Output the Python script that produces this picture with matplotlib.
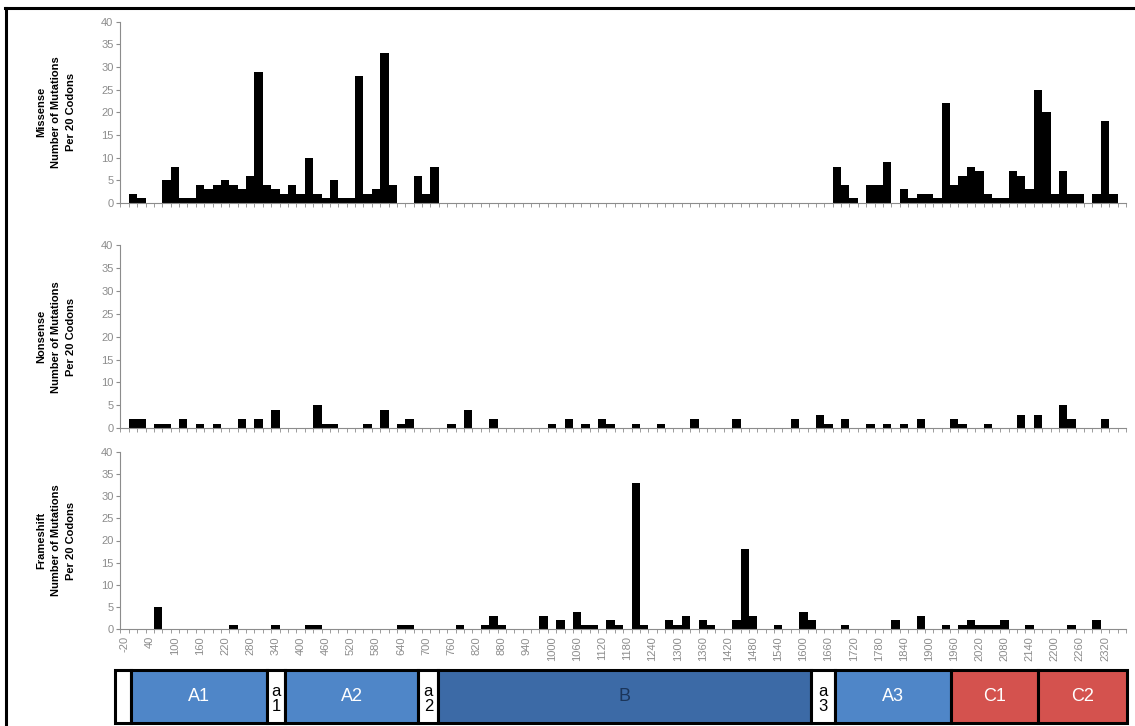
import numpy as np
import matplotlib
matplotlib.use("Agg")
import matplotlib.pyplot as plt
from matplotlib.patches import Rectangle
from matplotlib.lines import Line2D

plt.rcParams['font.family'] = ['Liberation Sans', 'DejaVu Sans']

# codon bins of 20 (start codon of each bin)
codons = list(range(-20, 2380, 20))

missense = [
    0, 2, 1, 0, 0, 5, 8, 1, 1, 4,
    3, 4, 5, 4, 3, 6, 29, 4, 3, 2,
    4, 2, 10, 2, 1, 5, 1, 1, 28, 2,
    3, 33, 4, 0, 0, 6, 2, 8, 0, 0,
    0, 0, 0, 0, 0, 0, 0, 0, 0, 0,
    0, 0, 0, 0, 0, 0, 0, 0, 0, 0,
    0, 0, 0, 0, 0, 0, 0, 0, 0, 0,
    0, 0, 0, 0, 0, 0, 0, 0, 0, 0,
    0, 0, 0, 0, 0, 8, 4, 1, 0, 4,
    4, 9, 0, 3, 1, 2, 2, 1, 22, 4,
    6, 8, 7, 2, 1, 1, 7, 6, 3, 25,
    20, 2, 7, 2, 2, 0, 2, 18, 2, 0,
]

nonsense = [
    0, 2, 2, 0, 1, 1, 0, 2, 0, 1,
    0, 1, 0, 0, 2, 0, 2, 0, 4, 0,
    0, 0, 0, 5, 1, 1, 0, 0, 0, 1,
    0, 4, 0, 1, 2, 0, 0, 0, 0, 1,
    0, 4, 0, 0, 2, 0, 0, 0, 0, 0,
    0, 1, 0, 2, 0, 1, 0, 2, 1, 0,
    0, 1, 0, 0, 1, 0, 0, 0, 2, 0,
    0, 0, 0, 2, 0, 0, 0, 0, 0, 0,
    2, 0, 0, 3, 1, 0, 2, 0, 0, 1,
    0, 1, 0, 1, 0, 2, 0, 0, 0, 2,
    1, 0, 0, 1, 0, 0, 0, 3, 0, 3,
    0, 0, 5, 2, 0, 0, 0, 2, 0, 0,
]

frameshift = [
    0, 0, 0, 0, 5, 0, 0, 0, 0, 0,
    0, 0, 0, 1, 0, 0, 0, 0, 1, 0,
    0, 0, 1, 1, 0, 0, 0, 0, 0, 0,
    0, 0, 0, 1, 1, 0, 0, 0, 0, 0,
    1, 0, 0, 1, 3, 1, 0, 0, 0, 0,
    3, 0, 2, 0, 4, 1, 1, 0, 2, 1,
    0, 33, 1, 0, 0, 2, 1, 3, 0, 2,
    1, 0, 0, 2, 18, 3, 0, 0, 1, 0,
    0, 4, 2, 0, 0, 0, 1, 0, 0, 0,
    0, 0, 2, 0, 0, 3, 0, 0, 1, 0,
    1, 2, 1, 1, 1, 2, 0, 0, 1, 0,
    0, 0, 0, 1, 0, 0, 2, 0, 0, 0,
]

panel_titles = ["Missense", "Nonsense", "Frameshift"]

# protein domains (approximate codon boundaries as drawn)
domain_names = ["", "A1", "a\n1", "A2", "a\n2", "B", "a\n3", "A3", "C1", "C2"]
domain_start = [-33, 5, 330, 373, 691, 739, 1628, 1686, 1963, 2171]
domain_end = [5, 330, 373, 691, 739, 1628, 1686, 1963, 2171, 2383]
domain_color = ["white", "#4F86C8", "white", "#4F86C8", "white", "#3C6AA6",
                "white", "#4F86C8", "#D4524E", "#D4524E"]
domain_text = ["black", "white", "black", "white", "black", "#1B355A",
               "black", "white", "white", "white"]

W, H = 1135, 726
fig = plt.figure(figsize=(W / 100, H / 100), dpi=100)

gray = "#8C8C8C"
left = 120.4 / W
width = 1005.6 / W
# (top pixel of 40, pixel of 0)
panel_px = [(21.7, 203.0), (245.0, 428.3), (451.7, 629.3)]

x = np.arange(len(codons))
series = [missense, nonsense, frameshift]

for k, (top, bot) in enumerate(panel_px):
    ax = fig.add_axes([left, 1 - bot / H, width, (bot - top) / H])
    ax.bar(x, series[k], width=1.0, color="black", linewidth=0)
    ax.set_xlim(-0.5, len(codons) - 0.5)
    ax.set_ylim(0, 40)
    ax.set_yticks(range(0, 45, 5))
    for s in ["top", "right"]:
        ax.spines[s].set_visible(False)
    for s in ["left", "bottom"]:
        ax.spines[s].set_color(gray)
        ax.spines[s].set_linewidth(0.8)
    ax.tick_params(axis="y", colors=gray, labelsize=8, length=3, width=0.8, pad=2)
    ax.set_xticks(np.arange(-0.5, len(codons), 1.0), minor=True)
    ax.tick_params(axis="x", which="minor", colors=gray, length=3, width=0.6)
    if k == 2:
        ax.set_xticks(x[::3])
        ax.set_xticklabels([str(c) for c in codons[::3]], rotation=90)
        ax.tick_params(axis="x", which="major", colors=gray, labelsize=8,
                       length=0, pad=5)
    else:
        ax.set_xticks([])
    ax.text(-0.064, 0.5, panel_titles[k] + "\nNumber of Mutations\nPer 20 Codons",
            transform=ax.transAxes, rotation=90, ha="center", va="center",
            fontsize=8, fontweight="bold", linespacing=1.6, multialignment="center")

# domain bar, same codon scale as the bar panels
dax = fig.add_axes([left, 3 / H, width, 53 / H])
dax.set_xlim(-20, 2380)
dax.set_ylim(0, 1)
dax.axis("off")
for name, s, e, c, tc in zip(domain_names, domain_start, domain_end, domain_color, domain_text):
    dax.add_patch(Rectangle((s, 0), e - s, 1, facecolor=c, edgecolor="black",
                            linewidth=2.2, clip_on=False))
    if name:
        small = name.startswith("a")
        dax.text((s + e) / 2, 0.5 if not small else 0.45, name, ha="center", va="center",
                 color=tc, fontsize=12 if small else 13, linespacing=1.05, clip_on=False)

# outer frame (top and left edges visible)
fig.add_artist(Line2D([5 / W, 1], [1 - 8 / H, 1 - 8 / H], color="black", lw=2.2))
fig.add_artist(Line2D([6 / W, 6 / W], [0, 1 - 8 / H], color="black", lw=2.2))

fig.savefig("out.png", dpi=100)
